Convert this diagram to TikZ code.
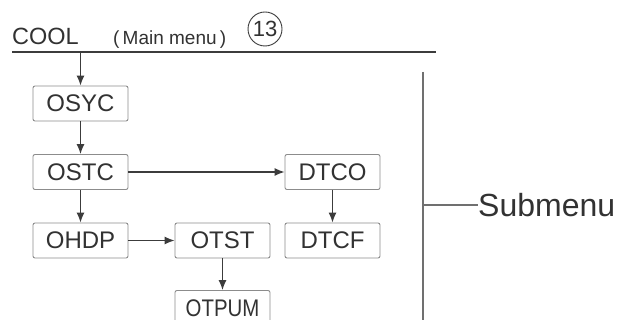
\documentclass[tikz,border=0pt]{standalone}
\usepackage{fontspec}
\setmainfont{Liberation Sans}
\usetikzlibrary{arrows.meta}

\begin{document}
\begin{tikzpicture}[x=1pt,y=1pt,
  menubox/.style={draw=boxColor,line width=0.9pt,rounded corners=2pt,
    minimum width=95pt,minimum height=35pt,inner sep=0pt,
    text=textColor,font=\fontsize{24}{24}\selectfont},
  menuarrow/.style={draw=lineColor,line width=1.3pt,-{Latex[length=10pt,width=8pt]}},
  menuline/.style={draw=lineColor,line width=1.6pt}]
\definecolor{fillColor}{RGB}{255,255,255}
\definecolor{textColor}{RGB}{50,50,50}
\definecolor{lineColor}{RGB}{60,60,60}
\definecolor{boxColor}{RGB}{140,140,140}
\path[use as bounding box,fill=fillColor] (0,0) rectangle (621,320);

% main menu header
\node[text=textColor,anchor=base west,inner sep=0pt,font=\fontsize{23.5}{24}\selectfont] (cool) at ( 12,275) {COOL};
\node[text=textColor,anchor=base west,inner sep=0pt,font=\fontsize{19}{19}\selectfont] (mainmenu) at (113,275) {(\,Main menu\,)};
\node[draw=lineColor,line width=0.9pt,circle,minimum size=34pt,inner sep=0pt,text=textColor,font=\fontsize{22}{22}\selectfont] (num) at (265,291) {13};
\coordinate (headleft) at ( 12,268);
\coordinate (headright) at (436,268);
\coordinate (headdrop) at (80.5,268);
\path[menuline] (headleft) -- (headright);

% boxes
\node[menubox] (osyc) at ( 80.5,216.5) {OSYC};
\node[menubox] (ostc) at ( 80.5,148.0) {OSTC};
\node[menubox] (ohdp) at ( 80.5, 79.5) {OHDP};
\node[menubox] (otst) at (222.5, 79.5) {OTST};
\node[menubox] (otpum) at (222.5, 12.0) {\scalebox{0.85}[1]{OTPUM}};
\node[menubox] (dtco) at (332.5,148.0) {DTCO};
\node[menubox] (dtcf) at (332.5, 79.5) {DTCF};

% connectors
\path[menuarrow] (headdrop) -- (osyc);
\path[menuarrow] (osyc) -- (ostc);
\path[menuarrow] (ostc) -- (ohdp);
\path[menuarrow] (ostc) -- (dtco);
\path[menuarrow] (ohdp) -- (otst);
\path[menuarrow] (otst) -- (otpum);
\path[menuarrow] (dtco) -- (dtcf);

% submenu bracket
\coordinate (subtop) at (423,248);
\coordinate (subbot) at (423, -5);
\coordinate (subtick) at (423,115);
\node[text=textColor,anchor=west,inner sep=0pt,font=\fontsize{32}{32}\selectfont] (submenu) at (478,115) {Submenu};
\path[menuline,draw=boxColor!80!black] (subtop) -- (subbot);
\path[menuline,draw=boxColor!80!black,line width=1.2pt] (subtick) -- (submenu.west);
\end{tikzpicture}
\end{document}
